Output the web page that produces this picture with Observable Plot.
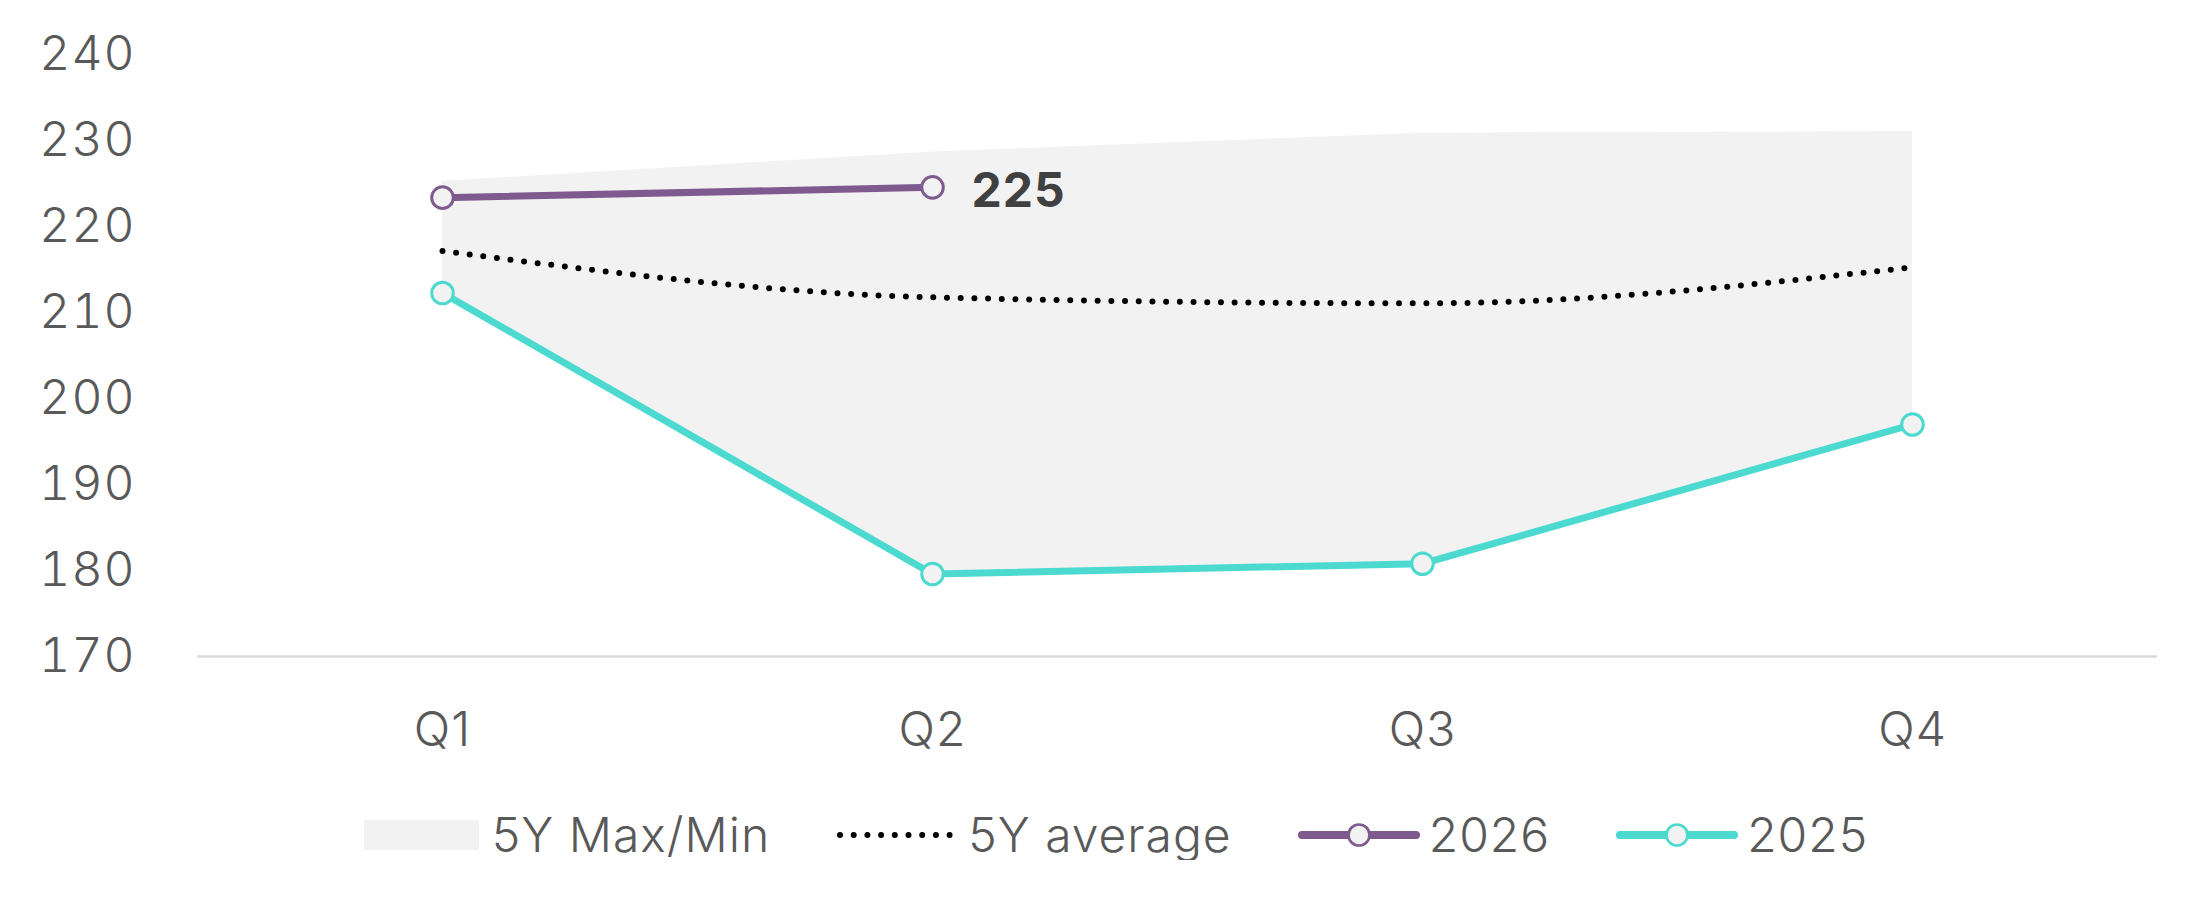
<!DOCTYPE html>
<html>
<head>
<meta charset="utf-8">
<script src="https://cdn.jsdelivr.net/npm/d3@7"></script>
<script src="https://cdn.jsdelivr.net/npm/@observablehq/plot@0.6"></script>
<style>
  html, body { margin: 0; padding: 0; background: #ffffff; }
  body { width: 2208px; font-family: Inter, "Open Sans", sans-serif; }
  #legend {
    display: flex; align-items: center; justify-content: center;
    margin-top: 44px; height: 50px; padding-left: 24px;
    font-size: 48px; font-weight: 300; color: #595959; letter-spacing: 1px;
  }
  .item { display: flex; align-items: center; margin: 0 33px; }
  .item svg { display: block; }
  .item span { line-height: 1; }
</style>
</head>
<body>
<div id="chart"></div>
<div id="legend"></div>
<script>
const quarters = ["Q1", "Q2", "Q3", "Q4"];
const max5y = [225.3, 228.7, 230.9, 231.1];
const min5y = [212.3, 179.6, 180.8, 197.0];
const avg5y = [217.2, 211.8, 211.1, 215.3];
const y2026 = [223.4, 224.6];
const y2025 = [212.3, 179.6, 180.8, 197.0];
const yTicks = [170, 180, 190, 200, 210, 220, 230, 240];

const colors = { band: "#f2f2f2", avg: "#000000", s2026: "#7f5a8f", s2025: "#4cdad0" };

const band = quarters.map((q, i) => ({ q, min: min5y[i], max: max5y[i] }));
const avg = quarters.map((q, i) => ({ q, v: avg5y[i] }));
const d2026 = y2026.map((v, i) => ({ q: quarters[i], v }));
const d2025 = y2025.map((v, i) => ({ q: quarters[i], v }));

const chart = Plot.plot({
  width: 2208,
  height: 766,
  marginLeft: 197,
  marginRight: 51,
  marginTop: 54.5,
  marginBottom: 110,
  style: { fontFamily: "Inter, 'Open Sans', sans-serif", fontSize: "48px", color: "#595959", background: "#ffffff", fontWeight: 300, letterSpacing: "1px" },
  x: { type: "point", domain: quarters, padding: 0.5, label: null },
  y: { domain: [170, 240], label: null },
  marks: [
    Plot.areaY(band, { x: "q", y1: "min", y2: "max", fill: colors.band }),
    Plot.ruleY([170], { stroke: "#d9d9d9", strokeWidth: 2.5 }),
    Plot.lineY(avg, { x: "q", y: "v", stroke: colors.avg, strokeWidth: 6, strokeDasharray: "0 13.7", strokeLinecap: "round", curve: "monotone-x" }),
    Plot.lineY(d2025, { x: "q", y: "v", stroke: colors.s2025, strokeWidth: 7 }),
    Plot.dot(d2025, { x: "q", y: "v", r: 10.8, fill: colors.band, stroke: colors.s2025, strokeWidth: 3 }),
    Plot.lineY(d2026, { x: "q", y: "v", stroke: colors.s2026, strokeWidth: 7 }),
    Plot.dot(d2026, { x: "q", y: "v", r: 10.8, fill: colors.band, stroke: colors.s2026, strokeWidth: 3 }),
    Plot.text(d2026.slice(-1), { x: "q", y: "v", text: d => String(Math.round(d.v)), dx: 39, dy: 4, textAnchor: "start", fontWeight: "bold", fill: "#404040", fontSize: 48 }),
    Plot.axisY({ ticks: yTicks, tickSize: 0, tickPadding: 62, fontSize: 48 }),
    Plot.axisX({ tickSize: 0, tickPadding: 55, fontSize: 48 })
  ]
});
document.getElementById("chart").appendChild(chart);

// Legend
const legendItems = [
  { label: "5Y Max/Min", type: "band" },
  { label: "5Y average", type: "avg" },
  { label: "2026", type: "line", color: colors.s2026 },
  { label: "2025", type: "line", color: colors.s2025 }
];
const legend = d3.select("#legend");
for (const it of legendItems) {
  const item = legend.append("div").attr("class", "item");
  if (it.type === "band") {
    const s = item.append("svg").attr("width", 115).attr("height", 30).style("margin-right", "13px");
    s.append("rect").attr("width", 115).attr("height", 30).attr("fill", colors.band);
  } else if (it.type === "avg") {
    const s = item.append("svg").attr("width", 120).attr("height", 20).style("margin-right", "12px");
    s.append("line").attr("x1", 4).attr("x2", 116).attr("y1", 10).attr("y2", 10)
      .attr("stroke", colors.avg).attr("stroke-width", 6).attr("stroke-dasharray", "0 13.7").attr("stroke-linecap", "round");
  } else {
    const s = item.append("svg").attr("width", 122).attr("height", 28).style("margin-right", "9px");
    s.append("line").attr("x1", 4).attr("x2", 118).attr("y1", 14).attr("y2", 14)
      .attr("stroke", it.color).attr("stroke-width", 8).attr("stroke-linecap", "round");
    s.append("circle").attr("cx", 61).attr("cy", 14).attr("r", 10.5)
      .attr("fill", colors.band).attr("stroke", it.color).attr("stroke-width", 2.7);
  }
  item.append("span").text(it.label);
}
</script>
</body>
</html>
